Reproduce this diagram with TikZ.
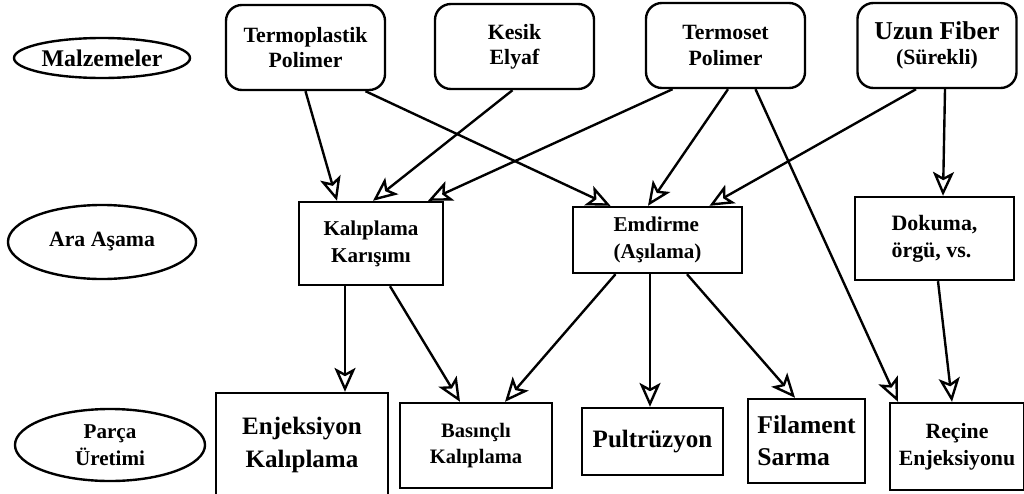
\documentclass[tikz,border=0pt]{standalone}
\usepackage{fontspec}
\setmainfont{Liberation Serif}
\usetikzlibrary{calc,shapes.geometric,arrows.meta}

\begin{document}
\begin{tikzpicture}[x=0.025cm,y=-0.025cm,
    lbl/.style={draw,ellipse,line width=1.7pt,inner sep=0pt,align=center,
      font=\bfseries\fontsize{15.5}{19}\selectfont},
    mat/.style={draw,rounded corners=0.4cm,line width=1.7pt,align=center,
      minimum width=3.975cm,minimum height=2.125cm,
      font=\bfseries\fontsize{15.5}{18}\selectfont},
    stage/.style={draw,line width=1.7pt,inner sep=0pt,align=center,
      font=\bfseries\fontsize{15}{19}\selectfont},
    big/.style={font=\bfseries\fontsize{17.8}{23}\selectfont},
    arr/.style={line width=1.7pt,-{Stealth[open,length=17pt,width=15pt,inset=4pt]}}]
    \useasboundingbox (0,0) rectangle (1024,493);

    % row labels
    \node[lbl,minimum width=4.4cm,minimum height=1cm,font=\bfseries\fontsize{17}{19}\selectfont] (malz) at (102,58) {Malzemeler};
    \node[lbl,minimum width=4.7cm,minimum height=1.85cm] (ara) at (102,242) {Ara Aşama};
    \node[lbl,minimum width=4.75cm,minimum height=1.8cm,font=\bfseries\fontsize{15}{19}\selectfont] (parca) at (110,445) {Parça\\Üretimi};

    % materials
    \node[mat] (tp) at (305.5,47.5) {Termoplastik\\Polimer};
    \node[mat] (kesik) at (514.5,46.5) {Kesik\\Elyaf};
    \node[mat] (tset) at (725.5,45.5) {Termoset\\Polimer};
    \node[mat] (uzun) at (937,45.5) {\fontsize{18.3}{20}\selectfont Uzun Fiber\\\fontsize{15.5}{20}\selectfont (Sürekli)};

    % intermediate
    \node[stage,minimum width=3.6cm,minimum height=2.075cm] (kk) at (371,243.5) {Kalıplama\\Karışımı};
    \node[stage,minimum width=4.225cm,minimum height=1.65cm,align=left] (emd) at (657.5,240) {Emdirme\\(Aşılama)};
    \node[stage,minimum width=3.975cm,minimum height=2.075cm,align=left,font=\bfseries\fontsize{15.6}{19}\selectfont] (dok) at (934.5,238.5) {Dokuma,\\örgü, vs.};

    % parts
    \node[stage,big,minimum width=4.3cm,minimum height=2.6cm] (enj) at (302,445) {Enjeksiyon\\Kalıplama};
    \node[stage,minimum width=3.8cm,minimum height=2.125cm,font=\bfseries\fontsize{14.6}{19}\selectfont] (bas) at (476,445.5) {Basınçlı\\Kalıplama};
    \node[stage,big,minimum width=3.525cm,minimum height=1.675cm] (pult) at (652.5,441.5) {Pultrüzyon};
    \node[stage,big,minimum width=2.925cm,minimum height=2.1cm,align=left,font=\bfseries\fontsize{18.2}{23}\selectfont] (fil) at (806.5,441) {Filament\\Sarma};
    \node[stage,minimum width=3.35cm,minimum height=2.175cm,font=\bfseries\fontsize{15.5}{19}\selectfont] (rec) at (957,446.5) {Reçine\\Enjeksiyonu};

    \draw[arr] (tp.south) -- ($(kk.north)+(-34,0)$);
    \draw[arr] ($(tp.south)+(60,0)$) -- ($(emd.north)+(-47,0)$);
    \draw[arr] ($(kesik.south)+(-2,0)$) -- ($(kk.north)+(2,0)$);
    \draw[arr] ($(tset.south)+(-53,0)$) -- ($(kk.north)+(57,0)$);
    \draw[arr] ($(tset.south)+(2.5,0)$) -- ($(emd.north)+(-9.5,0)$);
    \draw[arr] ($(tset.south)+(30,0)$) -- ($(rec.north)+(-59,0)$);
    \draw[arr] ($(uzun.south)+(-21,0)$) -- ($(emd.north)+(52,0)$);
    \draw[arr] ($(uzun.south)+(8,0)$) -- ($(dok.north)+(8.5,0)$);
    \draw[arr] ($(kk.south)+(-26,0)$) -- ($(enj.north)+(43,0)$);
    \draw[arr] ($(kk.south)+(19,0)$) -- ($(bas.north)+(-16,0)$);
    \draw[arr] ($(emd.south)+(-42,0)$) -- ($(bas.north)+(29,0)$);
    \draw[arr] ($(emd.south)+(-7.5,0)$) -- ($(pult.north)+(-2.5,0)$);
    \draw[arr] ($(emd.south)+(29.5,0)$) -- ($(fil.north)+(-11.5,0)$);
    \draw[arr] ($(dok.south)+(3.5,0)$) -- ($(rec.north)+(-5,0)$);
  \end{tikzpicture}
\end{document}
